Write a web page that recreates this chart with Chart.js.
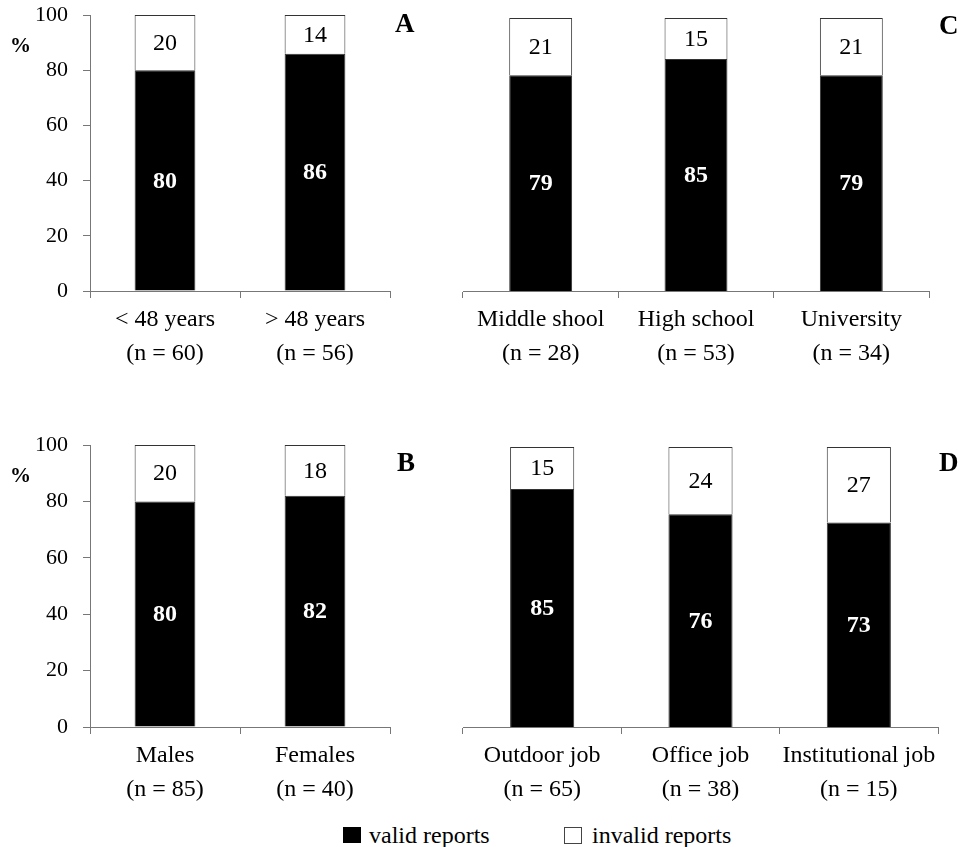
<!DOCTYPE html>
<html><head><meta charset="utf-8">
<script src="https://cdn.jsdelivr.net/npm/chart.js@4/dist/chart.umd.min.js"></script>
<style>
html,body{margin:0;padding:0;background:#fff;}
body{width:963px;height:847px;position:relative;overflow:hidden;font-family:"Liberation Serif","Times New Roman",serif;}
canvas{position:absolute;}
.t{position:absolute;white-space:nowrap;color:#000;line-height:1;}
.b{font-weight:bold;}
</style></head><body>
<canvas id="cA" width="440" height="400" style="left:0;top:0"></canvas>
<canvas id="cC" width="523" height="400" style="left:440px;top:0"></canvas>
<canvas id="cB" width="440" height="380" style="left:0;top:430px"></canvas>
<canvas id="cD" width="523" height="380" style="left:440px;top:430px"></canvas>

<div class="t b" style="left:10px;top:35px;font-size:21px">%</div>
<div class="t b" style="left:10px;top:465px;font-size:21px">%</div>
<div class="t b" style="left:395px;top:10px;font-size:27px">A</div>
<div class="t b" style="left:397px;top:449px;font-size:27px">B</div>
<div class="t b" style="left:939px;top:12px;font-size:27px">C</div>
<div class="t b" style="left:939px;top:449px;font-size:27px">D</div>

<div style="position:absolute;left:343px;top:827px;width:18px;height:16px;background:#000"></div>
<div class="t" style="left:369px;top:823px;font-size:24px">valid reports</div>
<div style="position:absolute;left:564px;top:827px;width:16px;height:15px;background:#fff;border:1px solid #444"></div>
<div class="t" style="left:592px;top:823px;font-size:24px">invalid reports</div>

<script>
// ---- data ----
const yTicks = [0, 20, 40, 60, 80, 100];
const seriesNames = ['valid reports', 'invalid reports'];

const catsA = [['< 48 years', '(n = 60)'], ['> 48 years', '(n = 56)']];
const validA = [80, 86];
const invalidA = [20, 14];

const catsB = [['Males', '(n = 85)'], ['Females', '(n = 40)']];
const validB = [80, 82];
const invalidB = [20, 18];

const catsC = [['Middle shool', '(n = 28)'], ['High school', '(n = 53)'], ['University', '(n = 34)']];
const validC = [79, 85, 79];
const invalidC = [21, 15, 21];

const catsD = [['Outdoor job', '(n = 65)'], ['Office job', '(n = 38)'], ['Institutional job', '(n = 15)']];
const validD = [85, 76, 73];
const invalidD = [15, 24, 27];

// ---- rendering ----
const FONT = '"Liberation Serif", "Times New Roman", serif';
Chart.defaults.font.family = FONT;
Chart.defaults.color = '#000';

const segLabels = {
  id: 'segLabels',
  afterDatasetsDraw(chart) {
    const ctx = chart.ctx;
    chart.data.datasets.forEach((ds, i) => {
      const meta = chart.getDatasetMeta(i);
      meta.data.forEach((el, j) => {
        const p = el.getProps(['x', 'y', 'base'], true);
        ctx.save();
        ctx.font = (i === 0 ? 'bold ' : '') + '24px ' + FONT;
        ctx.fillStyle = i === 0 ? '#fff' : '#000';
        ctx.textAlign = 'center';
        ctx.textBaseline = 'middle';
        ctx.fillText(String(ds.data[j]), p.x, (p.y + p.base) / 2 + 1);
        ctx.restore();
      });
    });
  }
};

function makeChart(id, cats, valid, invalid, o) {
  new Chart(document.getElementById(id), {
    type: 'bar',
    data: {
      labels: cats,
      datasets: [
        { label: seriesNames[0], data: valid, backgroundColor: '#000', borderColor: '#333', borderWidth: 1, borderSkipped: 'start' },
        { label: seriesNames[1], data: invalid, backgroundColor: '#fff', borderColor: '#333', borderWidth: 1, borderSkipped: 'start' }
      ]
    },
    options: {
      responsive: false,
      animation: false,
      events: [],
      layout: { padding: o.pad },
      datasets: { bar: { categoryPercentage: 1, barPercentage: 0.405 } },
      plugins: { legend: { display: false }, tooltip: { enabled: false } },
      scales: {
        x: {
          stacked: true,
          offset: true,
          grid: { display: true, offset: true, drawOnChartArea: false, drawTicks: true, tickLength: 7, color: '#777', lineWidth: 1 },
          border: { display: true, color: '#777', width: 1 },
          ticks: { font: { size: 24, lineHeight: 1.4 }, padding: 5, maxRotation: 0, autoSkip: false, color: '#000' },
          afterFit: s => { s.height = o.xh; }
        },
        y: {
          stacked: true,
          display: o.showY,
          min: 0, max: 100,
          afterBuildTicks: s => { s.ticks = yTicks.map(v => ({ value: v })); },
          grid: { display: true, drawOnChartArea: false, drawTicks: true, tickLength: 7, color: '#777', lineWidth: 1 },
          border: { display: true, color: '#777', width: 1 },
          ticks: { font: { size: 22 }, padding: 15, color: '#000' },
          afterFit: s => { s.width = o.showY ? 90 : 0; s.paddingTop = 0; s.paddingBottom = 0; }
        }
      }
    },
    plugins: [segLabels]
  });
}

makeChart('cA', catsA, validA, invalidA, { showY: true, pad: { left: 0, right: 50, top: 15, bottom: 0 }, xh: 109 });
makeChart('cC', catsC, validC, invalidC, { showY: false, pad: { left: 23, right: 34, top: 18, bottom: 0 }, xh: 109 });
makeChart('cB', catsB, validB, invalidB, { showY: true, pad: { left: 0, right: 50, top: 15, bottom: 0 }, xh: 83 });
makeChart('cD', catsD, validD, invalidD, { showY: false, pad: { left: 23, right: 25, top: 17, bottom: 0 }, xh: 83 });
</script>
</body></html>
